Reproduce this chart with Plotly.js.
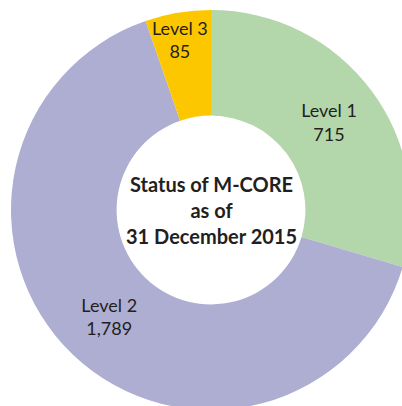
<!DOCTYPE html>
<html>
<head>
<meta charset="utf-8">
<script src="https://cdn.plot.ly/plotly-3.0.1.min.js"></script>
<style>
  html, body { margin: 0; padding: 0; overflow: hidden; background: #ffffff; width: 402px; height: 406px; }
  #chart { position: absolute; left: 0; top: 0; width: 420px; height: 420px; }
</style>
</head>
<body>
<div id="chart"></div>
<script>
// Data
var levels = ["Level 1", "Level 2", "Level 3"];
var counts = [715, 1789, 85];
// slice shares (%) as drawn in the reference picture
var sliceShares = [29.6, 65.1, 5.3];
var sliceColors = ["#b4d6ab", "#adaed2", "#fdc700"];
var centerTitle = ["Status of M-CORE", "as of", "31 December 2015"];

var fmt = function (n) { return n.toLocaleString("en-US"); };
var sliceText = levels.map(function (l, i) {
  return i === 2 ? "" : l + "<br>" + fmt(counts[i]);
});

var trace = {
  type: "pie",
  labels: levels,
  values: sliceShares,
  text: sliceText,
  textinfo: "text",
  textposition: "inside",
  insidetextorientation: "horizontal",
  textfont: { family: "Lato, 'Open Sans', sans-serif", size: 18, color: "#231f20" },
  sort: false,
  direction: "clockwise",
  rotation: 0,
  hole: 0.472,
  marker: { colors: sliceColors, line: { width: 0 } },
  showlegend: false,
  hoverinfo: "none"
};

var layout = {
  width: 420,
  height: 420,
  margin: { l: 11, r: 9, t: 10, b: 10, pad: 0 },
  paper_bgcolor: "#ffffff",
  plot_bgcolor: "#ffffff",
  showlegend: false,
  annotations: [
    {
      xref: "paper", yref: "paper", x: 0.5, y: 0.5,
      xanchor: "center", yanchor: "middle",
      text: "<b>" + centerTitle.join("<br>") + "</b>",
      showarrow: false,
      font: { family: "Lato, 'Open Sans', sans-serif", size: 20, color: "#231f20" },
      align: "center"
    },
    {
      xref: "paper", yref: "paper", x: 0.4225, y: 0.9275,
      xanchor: "center", yanchor: "middle",
      text: levels[2] + "<br>" + fmt(counts[2]),
      showarrow: false,
      font: { family: "Lato, 'Open Sans', sans-serif", size: 18, color: "#231f20" },
      align: "center"
    }
  ]
};

Plotly.newPlot("chart", [trace], layout, { displayModeBar: false, staticPlot: true });
</script>
</body>
</html>
